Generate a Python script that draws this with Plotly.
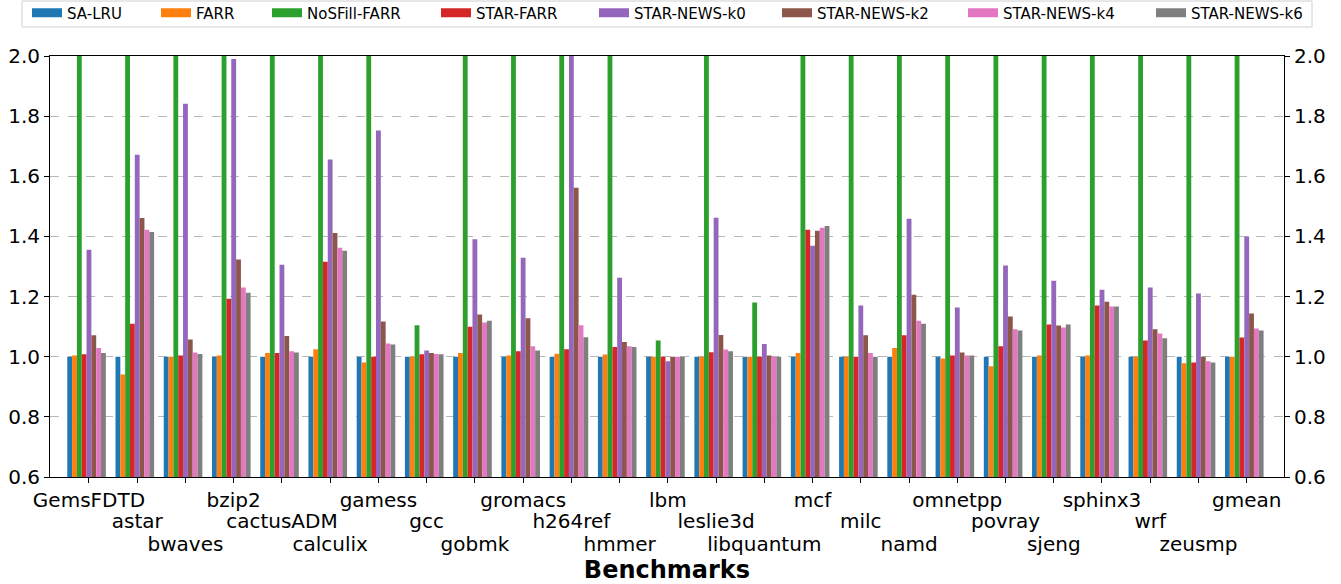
import plotly.graph_objects as go

benchmarks = ["GemsFDTD", "astar", "bwaves", "bzip2", "cactusADM", "calculix", "gamess", "gcc",
              "gobmk", "gromacs", "h264ref", "hmmer", "lbm", "leslie3d", "libquantum", "mcf",
              "milc", "namd", "omnetpp", "povray", "sjeng", "sphinx3", "wrf", "zeusmp", "gmean"]

series_names = ["SA-LRU", "FARR", "NoSFill-FARR", "STAR-FARR",
                "STAR-NEWS-k0", "STAR-NEWS-k2", "STAR-NEWS-k4", "STAR-NEWS-k6"]

sa_lru = [1.0] * 25
farr = [1.004, 0.941, 1.0, 1.004, 1.012, 1.025, 0.981, 1.0, 1.012, 1.004, 1.010, 1.007, 1.0,
        1.0, 1.0, 1.012, 1.0, 1.029, 0.994, 0.968, 1.004, 1.004, 1.0, 0.978, 1.0]
nosfill_farr = [2.6, 2.7, 2.5, 2.8, 2.6, 2.9, 2.5, 1.105, 2.4, 2.6, 2.7, 2.5, 1.054,
                2.6, 1.180, 2.8, 2.5, 2.6, 2.4, 2.5, 2.6, 2.7, 2.5, 2.4, 2.6]
star_farr = [1.008, 1.110, 1.004, 1.193, 1.012, 1.316, 1.0, 1.008, 1.100, 1.018, 1.025, 1.032,
             1.0, 1.015, 1.0, 1.422, 1.0, 1.071, 1.004, 1.035, 1.107, 1.170, 1.054, 0.981, 1.064]
star_news_k0 = [1.356, 1.672, 1.841, 1.990, 1.306, 1.656, 1.752, 1.021, 1.391, 1.329, 2.05, 1.263,
                0.985, 1.462, 1.042, 1.369, 1.170, 1.459, 1.164, 1.303, 1.253, 1.223, 1.230, 1.210, 1.400]
star_news_k2 = [1.071, 1.461, 1.057, 1.323, 1.069, 1.411, 1.117, 1.012, 1.140, 1.128, 1.562, 1.049,
                1.0, 1.072, 1.004, 1.419, 1.071, 1.206, 1.014, 1.134, 1.104, 1.183, 1.091, 1.0, 1.144]
star_news_k4 = [1.029, 1.422, 1.014, 1.230, 1.018, 1.362, 1.044, 1.009, 1.114, 1.035, 1.105, 1.035,
                1.0, 1.024, 1.0, 1.429, 1.012, 1.120, 1.004, 1.091, 1.097, 1.167, 1.077, 0.985, 1.094]
star_news_k6 = [1.012, 1.415, 1.009, 1.213, 1.014, 1.352, 1.041, 1.008, 1.120, 1.021, 1.065, 1.032,
                1.0, 1.018, 1.0, 1.435, 1.0, 1.110, 1.004, 1.087, 1.107, 1.167, 1.061, 0.981, 1.087]

y_ticks = [0.6, 0.8, 1.0, 1.2, 1.4, 1.6, 1.8, 2.0]

series_values = [sa_lru, farr, nosfill_farr, star_farr,
                 star_news_k0, star_news_k2, star_news_k4, star_news_k6]
colors = ["#1f77b4", "#ff7f0e", "#2ca02c", "#d62728",
          "#9467bd", "#8c564b", "#e377c2", "#7f7f7f"]

FONT = "DejaVu Sans"
W, H = 1341, 584
L, R, T, B = 50, 57, 56, 107
bar_w = 0.1
x_range = [-0.808, 24.773]

fig = go.Figure()
for i, (name, vals, col) in enumerate(zip(series_names, series_values, colors)):
    fig.add_trace(go.Bar(
        x=benchmarks, y=vals, name=name, marker=dict(color=col, line=dict(width=0)),
        width=bar_w, offset=(i - 4.5) * bar_w, showlegend=False, legendgroup=name,
    ))

# legend entries (one legend per entry so each sits where the reference puts it)
legend_px = [28, 157, 268, 437, 595, 778, 964, 1152]
for i, (name, col) in enumerate(zip(series_names, colors)):
    lid = "legend" if i == 0 else f"legend{i+1}"
    fig.add_trace(go.Scatter(
        x=[None], y=[None], mode="lines", name=name, legendgroup=name,
        line=dict(color=col, width=9), legend=lid, hoverinfo="skip",
    ))
    fig.layout[lid] = dict(
        x=(legend_px[i] - 1) / W, xref="container", xanchor="left",
        y=1 - 13 / H, yref="container", yanchor="middle",
        orientation="h", bgcolor="rgba(0,0,0,0)", borderwidth=0,
        font=dict(family=FONT, size=15, color="black"), itemwidth=30,
    )

# invisible helper traces for the extra axes (right y axis, 2nd/3rd label rows)
fig.add_trace(go.Scatter(x=benchmarks, y=[None] * len(benchmarks), yaxis="y2",
                         showlegend=False, hoverinfo="skip", mode="markers"))
fig.add_trace(go.Scatter(x=benchmarks, y=[None] * len(benchmarks), xaxis="x2",
                         showlegend=False, hoverinfo="skip", mode="markers"))
fig.add_trace(go.Scatter(x=benchmarks, y=[None] * len(benchmarks), xaxis="x3",
                         showlegend=False, hoverinfo="skip", mode="markers"))

row_text = [[b if k % 3 == r else "" for k, b in enumerate(benchmarks)] for r in range(3)]

tick_font = dict(family=FONT, size=20, color="black")
axis_common = dict(showline=True, linecolor="black", linewidth=1, ticks="outside",
                   ticklen=5, tickcolor="black", tickwidth=1, automargin=False,
                   tickfont=tick_font)
row_axis = dict(type="category", range=x_range, tickmode="array", tickvals=benchmarks,
                tickangle=0, showgrid=False, zeroline=False, automargin=False,
                overlaying="x", anchor="y", side="bottom", showline=False,
                ticks="outside", ticklen=5, tickcolor="rgba(0,0,0,0)", tickfont=tick_font)

fig.update_layout(
    width=W, height=H,
    margin=dict(l=L, r=R, t=T, b=B, autoexpand=False),
    paper_bgcolor="white", plot_bgcolor="white",
    barmode="overlay",
    xaxis=dict(type="category", range=x_range, tickmode="array",
               tickvals=benchmarks, ticktext=row_text[0], tickangle=0, mirror=True,
               showgrid=False, **axis_common),
    xaxis2=dict(ticktext=row_text[1], ticklabelstandoff=21, **row_axis),
    xaxis3=dict(ticktext=row_text[2], ticklabelstandoff=44,
                title=dict(text="Benchmarks", font=dict(family=FONT, size=24, weight="bold",
                                                       color="black"), standoff=0),
                **row_axis),
    yaxis=dict(range=[0.6, 2.0], tickmode="array", tickvals=y_ticks, tickformat=".1f",
               showgrid=True, gridcolor="#b8b8b8", griddash="dash", gridwidth=1,
               zeroline=False, **axis_common),
    yaxis2=dict(range=[0.6, 2.0], tickmode="array", tickvals=y_ticks, tickformat=".1f",
                overlaying="y", side="right", showgrid=False, zeroline=False,
                **axis_common),
    shapes=[dict(type="rect", xref="paper", yref="paper",
                 x0=(22 - L) / (W - L - R), x1=(1312 - L) / (W - L - R),
                 y0=(H - B - 27) / (H - T - B), y1=(H - B - 1) / (H - T - B),
                 line=dict(color="#d0d0d0", width=1), fillcolor="rgba(0,0,0,0)")],
)

fig.write_html("out.html", config={"displayModeBar": False},
               post_script="document.body.style.margin='0px';")
